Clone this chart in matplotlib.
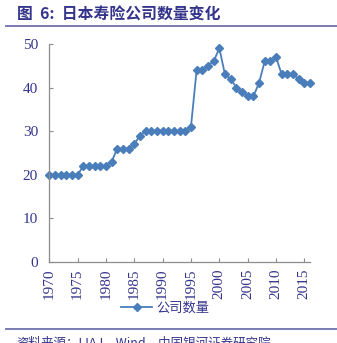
import matplotlib.pyplot as plt
from matplotlib.lines import Line2D

years = list(range(1970, 2017))
companies = [20, 20, 20, 20, 20, 20,
             22, 22, 22, 22, 22, 23,
             26, 26, 26, 27, 29,
             30, 30, 30, 30, 30, 30, 30, 30, 31,
             44, 44, 45, 46, 49, 43, 42, 40, 39, 38, 38, 41,
             46, 46, 47, 43, 43, 43, 42, 41, 41]
xticks = list(range(1970, 2016, 5))
yticks = [0, 10, 20, 30, 40, 50]

navy = '#34348C'
blue = '#4A7EBB'
serif = ['Liberation Serif', 'DejaVu Serif']
cjk = ['Noto Sans CJK SC', 'DejaVu Sans']

fig = plt.figure(figsize=(3.37, 3.43), dpi=100)
ax = fig.add_axes([0.146, 0.236, 0.774, 0.636])

ax.plot(years, companies, color=blue, lw=1.3, marker='D', ms=3.8,
        mec=blue, mfc=blue, clip_on=False)

ax.set_xlim(1970, 2016)
ax.set_ylim(0, 50)
ax.set_xticks(xticks)
ax.set_yticks(yticks)
ax.set_xticklabels([str(t) for t in xticks], rotation=90, family=serif,
                   fontsize=11, color=navy)
ax.set_yticklabels([str(t) for t in yticks], family=serif, fontsize=11,
                   color=navy)
for s in ['top', 'right']:
    ax.spines[s].set_visible(False)
for s in ['left', 'bottom']:
    ax.spines[s].set_color('#8C8C8C')
    ax.spines[s].set_linewidth(0.9)
ax.tick_params(axis='both', direction='in', colors='#8C8C8C', length=3,
               width=0.8)
ax.tick_params(axis='x', pad=5)
ax.tick_params(axis='y', pad=8)
for lbl in ax.get_xticklabels() + ax.get_yticklabels():
    lbl.set_color(navy)

# title and rules
fig.text(0.05, 0.958, '图  6:  日本寿险公司数量变化', family=cjk,
         fontsize=11.4, fontweight='bold', color=navy, va='center', ha='left')
fig.add_artist(Line2D([0.018, 1.0], [0.924, 0.924], color='#6F6FB0', lw=1.3))
fig.add_artist(Line2D([0.018, 1.0], [0.041, 0.041], color='#6F6FB0', lw=1.3))

# legend
handle = Line2D([], [], color=blue, lw=1.3, marker='D', ms=3.8)
fig.legend([handle], ['公司数量'], loc='center', bbox_to_anchor=(0.49, 0.101),
           frameon=False, prop={'family': cjk, 'size': 9.5},
           handlelength=2.4, handletextpad=0.3, labelcolor=navy)

fig.text(0.05, -0.02, '资料来源：LIAJ，Wind，中国银河证券研究院', family=cjk,
         fontsize=9, style='italic', color=navy, va='bottom', ha='left')

fig.savefig('out.png', dpi=100)
